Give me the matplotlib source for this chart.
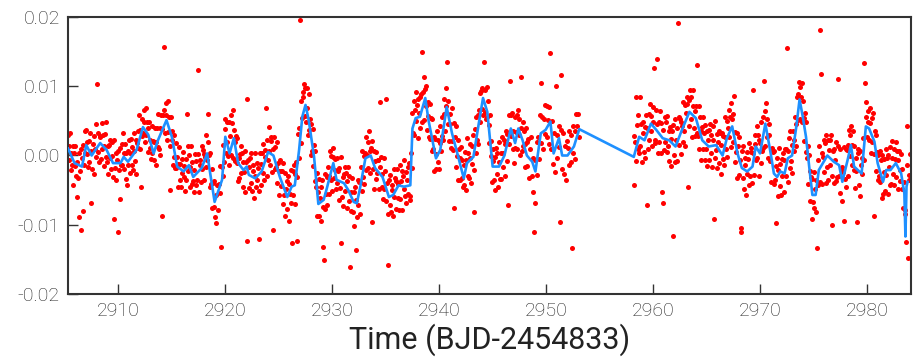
import numpy as np
import matplotlib
matplotlib.use('Agg')
import matplotlib.pyplot as plt

# smoothed model (blue line)
trend_t = [2905.3, 2905.9, 2906.6, 2907.0, 2907.5, 2908.3, 2908.9, 2909.5, 2910.2, 2910.5,
           2910.9, 2911.7, 2912.3, 2912.8, 2913.3, 2913.7, 2914.5, 2915.0, 2915.5, 2916.1,
           2916.6, 2917.0, 2917.8, 2918.3, 2919.0, 2919.7, 2920.0, 2920.4, 2920.8, 2921.2,
           2921.7, 2922.0, 2922.2, 2922.8, 2923.4, 2924.0, 2924.5, 2925.1, 2925.8, 2926.2,
           2926.5, 2926.9, 2927.2, 2927.5, 2927.8, 2928.3, 2928.7, 2929.2, 2929.5, 2930.1,
           2930.4, 2931.1, 2931.5, 2932.0, 2932.3, 2932.6, 2933.1, 2933.6, 2934.0, 2934.7,
           2935.3, 2935.7, 2936.2, 2936.7, 2937.3, 2937.5, 2937.8, 2938.2, 2938.7, 2939.0,
           2939.7, 2940.1, 2940.7, 2941.2, 2941.7, 2942.3, 2942.6, 2943.2, 2943.7, 2944.1,
           2944.5, 2945.0, 2945.6, 2946.1, 2946.7, 2947.1, 2947.4, 2947.8, 2948.2, 2948.7,
           2949.0, 2949.5, 2949.95, 2950.4, 2950.7, 2951.2, 2951.5, 2952.0, 2952.6, 2953.1,
           2958.2, 2958.7, 2959.2, 2959.8, 2960.3, 2960.9, 2961.5, 2962.1, 2962.7, 2963.4,
           2964.0, 2964.6, 2965.2, 2965.9, 2966.5, 2966.9, 2967.4, 2967.9, 2968.3, 2968.8,
           2969.3, 2969.6, 2970.0, 2970.5, 2971.0, 2971.3, 2971.6, 2971.9, 2972.3, 2972.6,
           2973.0, 2973.4, 2973.7, 2974.0, 2974.3, 2974.6, 2974.9, 2975.2, 2975.5, 2976.3,
           2976.9, 2977.4, 2977.7, 2978.2, 2978.5, 2978.8, 2979.3, 2979.5, 2979.9, 2980.2,
           2980.7, 2981.0, 2981.5, 2981.8, 2982.2, 2982.7, 2983.2, 2983.5, 2983.6, 2983.7,
           2983.8]
trend_f = [10, -11, -16, 15, 0, 18, 8, -11, -11, -2,
           -9, 8, 41, 30, 3, 22, 51, 27, -16, -23,
           -14, -31, -18, 3, -67, -35, 27, 3, 25, -11,
           -21, -16, -28, -33, -23, 5, 0, -31, -60, -45,
           -43, 8, 56, 73, 51, -2, -70, -64, -47, -11,
           -35, -40, -50, -67, -69, -47, -4, 0, -18, -31,
           -60, -57, -43, -45, -43, 39, 54, 56, 83, 51,
           -4, 8, 70, 32, 3, -33, -11, -2, 46, 83,
           63, -16, -16, 0, 39, 18, 39, 22, 0, -9,
           -23, 32, 37, 49, 3, 25, 0, 0, 13, 38,
           -2, 27, 22, 46, 37, 25, 22, 13, 37, 63,
           54, 22, 13, 15, 0, 25, 42, 3, -18, -23,
           -16, 13, 3, 46, 3, -26, -31, -23, -26, -4,
           0, 42, 81, 56, 27, -16, -57, -57, -21, 0,
           -9, -14, -38, -6, 15, -16, -23, -26, 42, 39,
           20, -11, -38, -21, -21, -11, -26, -55, -117, -45,
           -38]

# photometry (red points), units of 1e-4, one row per day, 16 samples a day
start_a = 2905.3
flux_a = [
    [30, -6, 13, 33, -21, 4, -13, 13, -42, 3, -15, 14, -30, -60, -10, -33],
    [4, -89, -23, 9, -108, -4, -80, 15, -14, 35, 4, 37, 2, 19, -17, 21],
    [-10, 32, 6, -69, -19, 17, -26, 28, 10, -2, 45, 103, 5, 33, -10, 26],
    [28, -5, 47, 10, 29, -15, 14, 31, -2, 49, -10, 13, -26, 15, -3, 23],
    [-19, 19, -1, -31, 22, -91, -18, 4, -36, -7, 7, -111, -21, -63, 11, -13],
    [16, -14, 32, -19, 3, 16, -34, 4, -43, 7, -14, 23, -25, 4, 24, -13],
    [12, -21, 6, 32, -8, 23, -26, 18, 35, 11, 58, 9, 37, -46, 53, 28],
    [33, 65, 48, 19, 69, 30, 48, 5, 39, 48, 11, 23, -5, 42, 4, 21],
    [20, -6, 39, -13, 20, 40, 12, 60, 9, 40, 1, 59, 38, -87, 59, 156],
    [65, 33, 76, 59, 23, 79, 34, 56, -50, 14, 56, 23, 35, -13, 30, -2],
    [-18, 18, -18, -2, -46, -12, 12, -35, -12, -46, -5, -25, 5, -31, -15, -51],
    [-5, -36, 60, 14, -23, 0, -46, -17, 13, -41, -9, -37, -21, -53, 2, -43],
    [-8, -36, 123, 2, -52, -14, -6, -38, 14, -19, 8, -36, 2, -2, -17, 29],
    [-7, 19, 60, 0, -45, 3, -41, -20, -76, -39, -75, -37, -89, -57, -97, -42],
    [-42, -79, -41, -15, -54, -132, -16, -29, 15, -10, 53, 38, 4, 48, 20, -1],
    [49, -13, 28, 58, 1, 47, -4, 66, 37, -8, 20, 28, -11, 25, -37, -3],
    [-33, 2, 14, -25, 4, -46, -9, -24, 7, -52, -10, 81, -124, -7, -47, -16],
    [-4, -39, 3, -51, -23, -14, -61, -29, 4, -45, -11, -36, -18, -121, -51, 3],
    [-12, -42, 4, -25, 16, -36, -2, 8, 69, -29, 22, -7, 41, 6, -13, 26],
    [21, -24, 9, -108, 27, -20, 12, -16, 19, -39, -11, -57, -23, -7, -44, -23],
    [-23, -70, -11, -57, -25, -87, -48, -37, -77, -29, -95, -41, -56, -21, -68, -126],
    [-23, -57, -13, -70, -27, -10, -124, -31, 31, -4, 39, 195, 18, 78, 54, 84],
    [92, 103, 57, 98, 49, 97, 69, 29, 89, 37, 53, 0, 45, 6, 38, -15],
    [15, -37, 6, -45, -25, -88, -53, -34, -87, -62, -95, -45, -35, -74, -132, -151],
    [-77, -26, -56, -31, -72, -16, -29, -56, 7, -35, -1, -51, -2, 11, -33, -21],
    [-5, -49, -4, -40, -23, -64, -18, -47, -127, -2, -60, -31, -73, -26, -16, -51],
    [-25, -76, -37, -16, -66, -29, -161, -80, -53, -32, -82, -53, -102, -46, -136, -64],
    [-89, -36, -71, -38, -84, -38, -17, -51, 6, -31, -1, -41, 3, 26, -21, 1],
    [20, -18, 35, 6, -25, 11, -96, 21, -19, 6, -48, -8, -34, 5, -25, -6],
    [-6, -48, -16, 77, -2, -45, -27, -63, -4, -49, -22, 82, -66, -40, -158, -84],
    [-35, -72, -28, -81, -50, -42, -87, -20, -60, -33, -77, -37, -19, -61, -41, -78],
    [-14, -63, -37, -22, -78, -30, -49, -6, -58, -24, -69, -35, -17, -55, -11, -64],
    [-58, 3, -18, 61, 32, 79, 29, 65, 91, 50, 73, 25, 81, 62, 39, 85],
    [89, 49, 149, 92, 51, 113, 96, 71, 100, 37, 77, 57, 27, 75, 24, 54],
    [7, 53, 9, 27, -22, 24, 2, -19, 36, -9, 23, -20, 18, 42, 7, 28],
    [55, 23, 60, 82, 35, 72, 98, 135, 45, 78, 21, 60, 46, 11, 69, 21],
    [8, 47, -76, 27, -16, 42, -1, 22, -36, 9, -4, -36, 12, -32, -7, -45],
    [-13, -42, 5, -50, -6, 25, -29, 4, -33, 16, -4, -40, 13, -12, 29, -21],
    [-82, 38, 3, 56, 23, 59, 16, 65, 90, 49, 93, 67, 98, 59, 135, 63],
    [94, 52, 99, 55, 78, 18, 44, 59, -1, 21, -38, -8, 9, -36, -2, -50],
    [11, -27, 3, -46, -10, 19, -34, 3, -34, 27, 3, -17, 22, -30, 17, 35],
    [31, -8, -71, 58, 17, 107, 59, 28, 61, 9, 35, -11, 55, 11, 34, 59],
    [10, 66, 29, 53, 1, 113, 40, 7, 49, 14, 36, -17, 17, 39, -15, 20],
    [24, None, -33, 9, 26, None, -29, -3, -53, -110, -68, -6, None, 19, -28, 27],
    [-5, None, 59, 18, 104, 56, None, 9, 53, 73, 31, None, 71, 26, 51, 16],
    [70, 148, None, 9, 50, None, -12, 33, -24, None, 101, 30, -3, None, 43, 12],
    [-96, 37, 116, -19, None, 33, -26, 14, None, -35, 21, None, 11, -13, 36, None],
    [30, -9, -134, 43, 4, None, 35, -5, 60, None, 43, 60, 27],
]

start_b = 2958.2
flux_b = [
    [28, -43, 19, 85, -8, 44, 10, 58, 3, 84, 13, 46, -9, 32, 49, 5],
    [41, -3, 59, -72, 40, 10, 60, 22, 75, 35, 57, 13, 70, 48, 127, 23],
    [18, 65, 45, 140, 3, 49, 20, 64, 3, 47, -52, -69, 37, 8, 55, 19],
    [49, 5, 57, 13, 36, -8, 41, 24, -15, 35, -116, 44, 0, 52, -10, 23],
    [-8, 39, 192, 55, 15, 53, 2, 49, 43, 20, 77, 36, 73, 14, 61, 74],
    [84, -46, 80, 42, 95, 53, 85, 27, 72, 94, 39, 64, 28, 72, 131, 33],
    [28, 71, 10, 55, 36, -6, 41, 56, 10, 32, -6, 44, 10, 35, -15, 23],
    [37, -7, 46, 3, 30, -17, 22, 43, -92, -3, 50, 8, 31, -18, 19, 35],
    [-11, 32, -27, 15, 33, -5, 28, -13, 26, 56, 9, 50, -2, 39, 66, 27],
    [56, 12, 76, 52, 20, 60, 86, -9, 34, 5, 32, -32, 13, 26, -28, -7],
    [-111, -104, 7, -32, 14, -49, -13, -3, -57, 5, -26, -5, -43, 18, -29, 5],
    [11, -39, 3, 95, -28, 29, 17, -7, 42, -4, 30, -30, 23, 18, -11, 48],
    [6, 56, 11, 107, 64, 13, 76, 26, 52, -3, 30, 45, -8, 8, -38, 11],
    [5, -41, 7, -36, -15, -98, -4, -59, -21, 11, -44, -12, -57, -5, -29, 3],
    [-7, -52, 9, -30, 10, 155, -38, 6, 25, -18, 35, -8, 15, -25, 36, 22],
    [6, 55, 46, 13, 84, 51, 89, 106, 99, 53, 84, 104, 48, 79, 21, 54],
    [62, 5, 48, -4, 13, -41, 0, -23, -66, -31, -92, -34, -67, -24, -76, -49],
    [-35, -81, -133, -7, -42, 14, 181, -38, 118, 3, -41, -2, 23, -24, 18, -40],
    [29, -16, 22, -36, 8, 23, -13, 30, -100, -29, 6, -39, 10, -7, -37, 20],
    [-31, 110, 14, -29, 10, -54, -19, -17, -66, -24, -95, 12, -34, 9, -45, 8],
    [15, -30, 37, -1, 29, 43, -13, 15, 35, -21, 14, -47, -4, -22, -96, 10],
    [4, -42, 7, -59, -14, -4, -26, 25, 133, -6, 104, 55, 77, 27, 64, 48],
    [22, 68, 47, 3, 54, 20, 61, 2, -87, 35, -23, 30, 5, -35, 1, -29],
    [7, -38, -7, -62, 0, -56, -24, -5, -51, 9, -28, -4, -56, 0, -16, -43],
    [12, -41, -4, 21, -26, 10, -42, -5, 19, -31, 6, -49, -7, 6, -37, -21],
    [2, -49, -20, -76, -38, -79, -85, -125, 42, -14, -148, -28, -35, 2, -28],
]

xticks = [2910, 2920, 2930, 2940, 2950, 2960, 2970, 2980]
yticks = [-0.02, -0.01, 0.00, 0.01, 0.02]


def expand(start, rows):
    tt, ff = [], []
    for k, row in enumerate(rows):
        for j, v in enumerate(row):
            tt.append(start + k + j / 16.0)
            ff.append(np.nan if v is None else v * 1e-4)
    return np.array(tt), np.array(ff)


ta, fa = expand(start_a, flux_a)
tb, fb = expand(start_b, flux_b)
t = np.concatenate([ta, tb])
f = np.concatenate([fa, fb])

plt.rcParams['font.family'] = ['Roboto', 'DejaVu Sans']
plt.rcParams['font.weight'] = 'light'
txt = '#222222'

fig = plt.figure(figsize=(9.2, 3.63), dpi=100)
ax = fig.add_axes([68 / 920, 1 - 294 / 363, (911 - 68) / 920, (294 - 17) / 363])

ax.scatter(t, f, s=13, color='#ff0000', linewidths=0, zorder=2)
ax.plot(trend_t, np.array(trend_f) * 1e-4, color='#1e90ff', lw=1.9, zorder=3)

ax.set_xlim(2905.29, 2984.12)
ax.set_ylim(-0.02, 0.02)
ax.set_xticks(xticks)
ax.set_yticks(yticks)
ax.set_yticklabels(['%.2f' % v for v in yticks])
ax.tick_params(direction='in', length=7, width=1, colors='#333333',
               labelsize=14, labelcolor=txt, top=False, right=False, pad=6)
for s in ax.spines.values():
    s.set_linewidth(1.5)
    s.set_color('#333333')

ax.set_xlabel('Time (BJD-2454833)', fontsize=22, color=txt, labelpad=2)

fig.savefig('out.png', dpi=100)
